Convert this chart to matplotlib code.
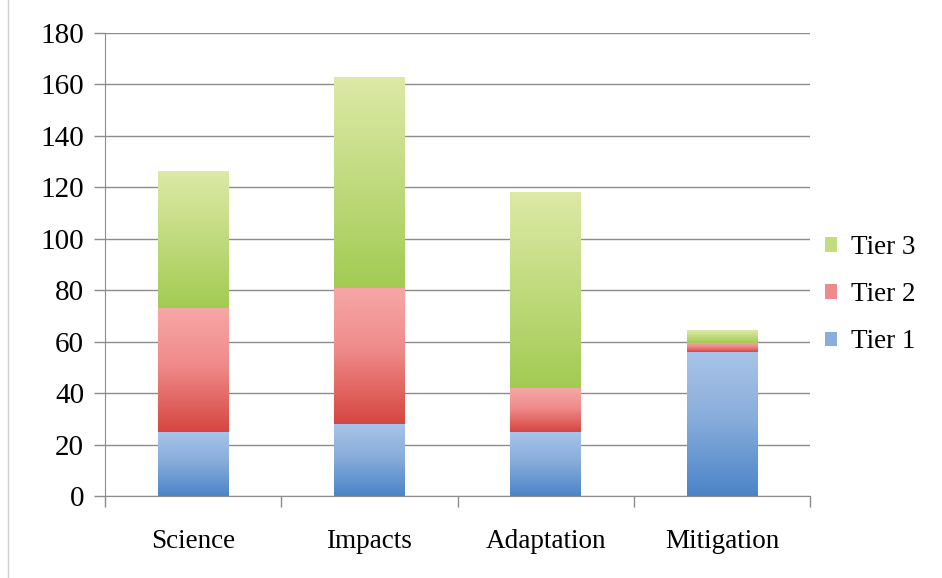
import numpy as np
import matplotlib
matplotlib.use("Agg")
import matplotlib.pyplot as plt
from matplotlib.colors import LinearSegmentedColormap
from matplotlib.patches import Rectangle
from matplotlib.lines import Line2D

# data
categories = ["Science", "Impacts", "Adaptation", "Mitigation"]
tier1 = [25, 28, 25, 56]
tier2 = [48, 53, 17, 3.5]
tier3 = [53, 82, 76, 5]
series_names = ["Tier 1", "Tier 2", "Tier 3"]

# gradient stops (top, middle, bottom)
grads = {
    "Tier 1": ["#a9c4e8", "#8aaedc", "#4a84c7"],
    "Tier 2": ["#f6a7a7", "#f08b8b", "#d6463f"],
    "Tier 3": ["#dde9a6", "#c3dc82", "#a3cb52"],
}

plt.rcParams['font.family'] = ['Liberation Serif', 'DejaVu Serif']

fig = plt.figure(figsize=(9.42, 5.78), dpi=100)
ax = fig.add_axes([0.1115, 0.1419, 0.7485, 0.801])

x = np.arange(len(categories))
width = 0.40
ax.set_xlim(-0.5, len(categories) - 0.5)
ax.set_ylim(0, 180)

grid = np.linspace(1, 0, 256).reshape(-1, 1)
data = [tier1, tier2, tier3]
bottoms = np.zeros(len(categories))
for name, vals in zip(series_names, data):
    top, mid, bot = grads[name]
    cmap = LinearSegmentedColormap.from_list(name, [(0, bot), (0.55, mid), (1, top)])
    for i, v in enumerate(vals):
        b = bottoms[i]
        ax.imshow(grid, cmap=cmap, aspect='auto', vmin=0, vmax=1,
                  extent=[x[i] - width / 2, x[i] + width / 2, b, b + v],
                  zorder=3, interpolation='bilinear')
    bottoms += np.array(vals)

# soft shadow under bars
for i, tot in enumerate(bottoms):
    ax.add_patch(Rectangle((x[i] - width / 2, -1.0), width, tot,
                           facecolor="#000000", alpha=0.12, zorder=2, lw=0))

ax.set_xlim(-0.5, len(categories) - 0.5)
ax.set_ylim(0, 180)
ax.set_yticks(np.arange(0, 181, 20))
ax.yaxis.grid(True, color="#8c8c8c", lw=1.0)
ax.set_axisbelow(True)

ax.set_xticks(np.arange(-0.5, len(categories), 1.0))
ax.set_xticklabels([])
ax.set_xticks(x, minor=True)
ax.set_xticklabels(categories, minor=True, fontsize=19.5)
ax.tick_params(axis='x', which='minor', length=0, pad=24)
ax.tick_params(axis='x', which='major', length=8, color="#8c8c8c", width=1)
ax.tick_params(axis='y', length=8, color="#8c8c8c", width=1, labelsize=21, pad=7)

for s in ["top", "right"]:
    ax.spines[s].set_visible(False)
for s in ["left", "bottom"]:
    ax.spines[s].set_color("#8c8c8c")

handles = [Rectangle((0, 0), 1, 1, facecolor=grads[n][1], edgecolor="none") for n in series_names]
leg = fig.legend(handles[::-1], series_names[::-1], loc="center left",
                 bbox_to_anchor=(0.85, 0.49), frameon=False, fontsize=19.5,
                 handlelength=0.45, handleheight=0.45, handletextpad=0.5, labelspacing=0.82)

fig.add_artist(Line2D([0.009, 0.009], [0.0, 1.0], color="#d0d0d0", lw=1))

fig.savefig("out.png", dpi=100)
